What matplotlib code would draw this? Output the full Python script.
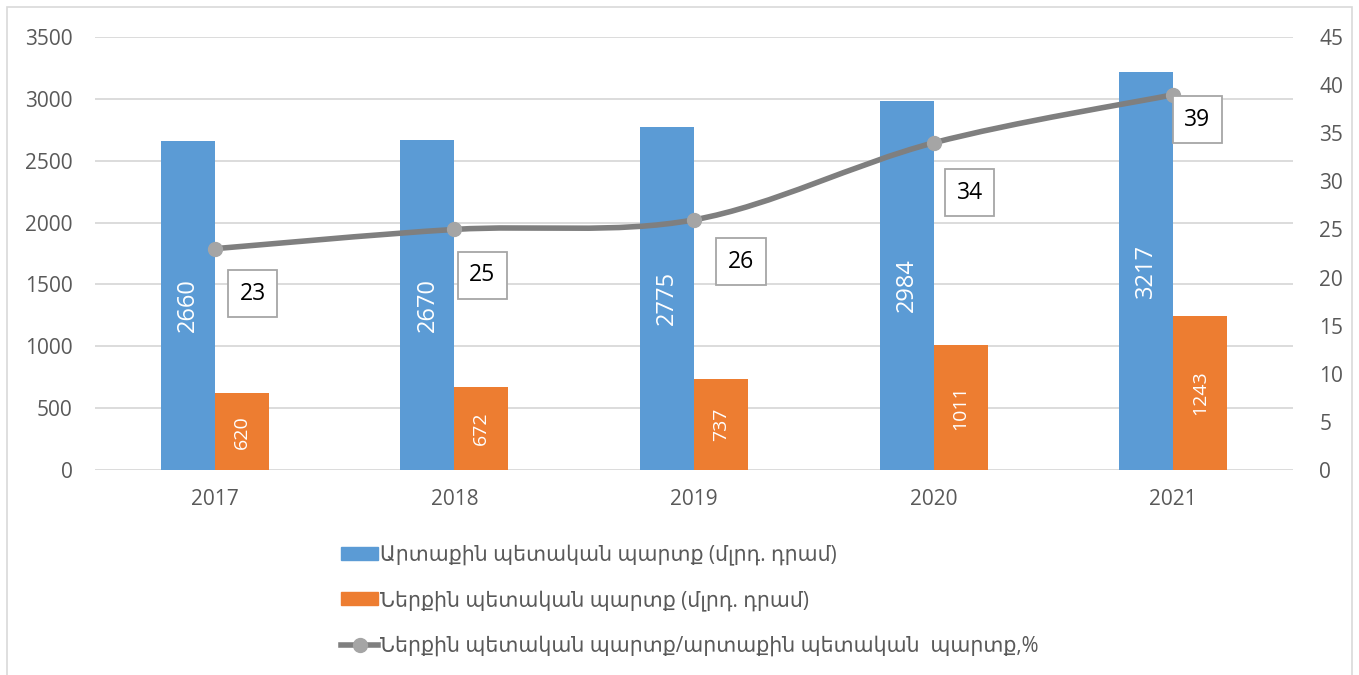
import matplotlib
matplotlib.use('Agg')
import matplotlib.pyplot as plt
from matplotlib.path import Path
from matplotlib.patches import PathPatch, Patch, Rectangle
from matplotlib.lines import Line2D
import numpy as np

plt.rcParams['font.family'] = ['Open Sans', 'DejaVu Sans']

years = ['2017', '2018', '2019', '2020', '2021']
external_debt = [2660, 2670, 2775, 2984, 3217]
internal_debt = [620, 672, 737, 1011, 1243]
ratio_pct = [23, 25, 26, 34, 39]

label_ext = 'Արտաքին պետական պարտք (մլրդ. դրամ)'
label_int = 'Ներքին պետական պարտք (մլրդ. դրամ)'
label_ratio = 'Ներքին պետական պարտք/արտաքին պետական  պարտք,%'

BLUE = '#5b9bd5'
ORANGE = '#ed7d31'
LINE = '#7f7f7f'
MARKER = '#a5a5a5'
GRID = '#d9d9d9'
TICK = '#595959'

# where the boxed % labels sit relative to their point (pixels)
box_offsets = [(38, -45), (28, -46), (47, -42), (36, -50), (24, -25)]

fig = plt.figure(figsize=(13.59, 6.75), dpi=100)
fig.patches.append(Rectangle((7 / 1359, -0.01), 1345 / 1359, 1 - 7 / 675 + 0.01,
                             transform=fig.transFigure, fill=False,
                             ec=GRID, lw=1.2))

ax = fig.add_axes([95 / 1359, 1 - 470 / 675, 1198 / 1359, 433 / 675])
x = np.arange(len(years))
w = 0.225
b1 = ax.bar(x - w / 2, external_debt, w, color=BLUE, zorder=2)
b2 = ax.bar(x + w / 2, internal_debt, w, color=ORANGE, zorder=2)
ax.bar_label(b1, label_type='center', rotation=90, color='white', fontsize=17)
ax.bar_label(b2, label_type='center', rotation=90, color='white', fontsize=14)

ax.set_xlim(-0.5, len(years) - 0.5)
ax.set_ylim(0, 3500)
ax.set_yticks(range(0, 3501, 500))
ax.set_xticks(x)
ax.set_xticklabels(years)
ax.grid(axis='y', color=GRID, lw=1.3, zorder=0)
ax.set_axisbelow(True)
for s in ax.spines.values():
    s.set_visible(False)
ax.tick_params(length=0, colors=TICK, labelsize=15)
ax.tick_params(axis='y', pad=16)
ax.tick_params(axis='x', pad=14)

ax2 = ax.twinx()
ax2.set_ylim(0, 45)
ax2.set_yticks(range(0, 46, 5))
for s in ax2.spines.values():
    s.set_visible(False)
ax2.tick_params(length=0, colors=TICK, labelsize=15, pad=19)

# smooth line (Catmull-Rom through the data points, like Excel's smoothed line)
pts = np.column_stack([x, ratio_pct]).astype(float)
verts = [pts[0]]
codes = [Path.MOVETO]
for i in range(len(pts) - 1):
    p0 = pts[max(i - 1, 0)]
    p1 = pts[i]
    p2 = pts[i + 1]
    p3 = pts[min(i + 2, len(pts) - 1)]
    verts += [p1 + (p2 - p0) / 6, p2 - (p3 - p1) / 6, p2]
    codes += [Path.CURVE4] * 3
ax2.add_patch(PathPatch(Path(verts, codes), fill=False, ec=LINE, lw=4,
                        capstyle='round', zorder=3))
ax2.plot(x, ratio_pct, ls='none', marker='o', ms=10, color=MARKER, zorder=4)

for xi, v, (dx, dy) in zip(x, ratio_pct, box_offsets):
    ax2.annotate(str(v), (xi, v), xytext=(dx, dy), textcoords='offset pixels',
                 ha='center', va='center', fontsize=16.5, color='black',
                 bbox=dict(boxstyle='square,pad=0.5', fc='white',
                           ec='#a6a6a6', lw=1.3), zorder=5)

handles = [Patch(color=BLUE), Patch(color=ORANGE),
           Line2D([], [], color=LINE, lw=4, marker='o', ms=10,
                  markerfacecolor=MARKER, markeredgecolor=MARKER)]
fig.legend(handles, [label_ext, label_int, label_ratio],
           loc='upper left', bbox_to_anchor=(331 / 1359, 1 - 534 / 675),
           frameon=False, fontsize=14.8, labelcolor=TICK,
           handlelength=1.8, handleheight=0.6, handletextpad=0.1,
           labelspacing=1.2, borderpad=0)

fig.savefig('out.png', dpi=100, facecolor='white')
